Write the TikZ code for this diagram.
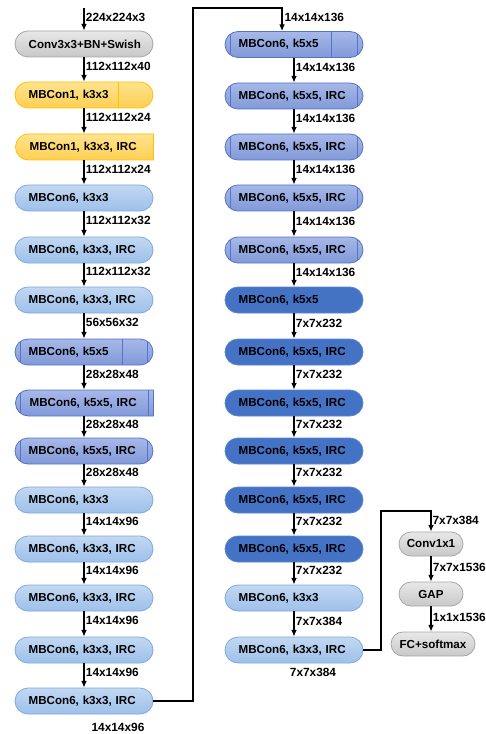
\documentclass[tikz,border=0pt]{standalone}
\usepackage{fontspec}
\setmainfont{Liberation Sans}
\usetikzlibrary{shapes.misc,arrows.meta}

\definecolor{graytop}{RGB}{232,232,232}
\definecolor{graybot}{RGB}{200,200,200}
\definecolor{grayline}{RGB}{166,166,166}
\definecolor{orangetop}{RGB}{255,227,143}
\definecolor{orangebot}{RGB}{255,207,82}
\definecolor{orangeline}{RGB}{255,192,0}
\definecolor{lighttop}{RGB}{194,216,242}
\definecolor{lightbot}{RGB}{157,192,234}
\definecolor{lightline}{RGB}{126,169,221}
\definecolor{midtop}{RGB}{167,184,232}
\definecolor{midbot}{RGB}{129,153,216}
\definecolor{midline}{RGB}{84,116,200}
\definecolor{darkfill}{RGB}{68,114,196}
\definecolor{darkline}{RGB}{91,132,207}

\tikzset{
  blk/.style={rounded rectangle, minimum width=103.5pt, minimum height=19.5pt,
    inner xsep=0pt, inner ysep=0pt, text width=83pt, align=left,
    font=\fontsize{8.7}{10}\selectfont\bfseries, line width=0.6pt},
  graybox/.style={blk, draw=grayline, top color=graytop, bottom color=graybot},
  orangebox/.style={blk, draw=orangeline, top color=orangetop, bottom color=orangebot},
  lightbox/.style={blk, draw=lightline, top color=lighttop, bottom color=lightbot},
  midbox/.style={blk, draw=midline, top color=midtop, bottom color=midbot,
    path picture={\draw[midline, line width=0.5pt]
      ([xshift=4pt]path picture bounding box.south west) -- ([xshift=4pt]path picture bounding box.north west)
      ([xshift=-4pt]path picture bounding box.south east) -- ([xshift=-4pt]path picture bounding box.north east);}},
  darkbox/.style={blk, draw=darkline, fill=darkfill},
  headbox/.style={rounded rectangle, minimum width=48pt, minimum height=18pt,
    inner xsep=0pt, inner ysep=0pt, align=center, draw=grayline, top color=graytop,
    bottom color=graybot, line width=0.6pt, font=\fontsize{8.7}{10}\selectfont\bfseries},
  divline/.style={line width=0.5pt},
  arr/.style={-{Latex[length=5pt,width=4.2pt]}, line width=0.9pt},
  dim/.style={anchor=west, inner sep=1pt, font=\fontsize{8.9}{10}\selectfont\bfseries},
  dimfree/.style={inner sep=1pt, font=\fontsize{8.9}{10}\selectfont\bfseries}
}

\begin{document}
\begin{tikzpicture}[x=0.75pt,y=0.75pt,yscale=-1,xscale=1]
\useasboundingbox (0,0) rectangle (485,734);

%Stem: left column
\node[graybox, align=center] (l0) at (84,44) {Conv3x3+BN+Swish};
\node[orangebox] (l1) at (84,95) {MBCon1, k3x3};
\node[orangebox, rounded rectangle right arc=none] (l2) at (85,147) {MBCon1, k3x3, IRC};
\node[lightbox] (l3) at (84,198) {MBCon6, k3x3};
\node[lightbox] (l4) at (84,250) {MBCon6, k3x3, IRC};
\node[lightbox] (l5) at (84,300) {MBCon6, k3x3, IRC};
\node[midbox] (l6) at (84,352) {MBCon6, k5x5};
\node[midbox, rounded rectangle right arc=none] (l7) at (85,403) {MBCon6, k5x5, IRC};
\node[midbox] (l8) at (84,451) {MBCon6, k5x5, IRC};
\node[lightbox] (l9) at (84,500) {MBCon6, k3x3};
\node[lightbox] (l10) at (84,549) {MBCon6, k3x3, IRC};
\node[lightbox] (l11) at (84,598) {MBCon6, k3x3, IRC};
\node[lightbox] (l12) at (84,650) {MBCon6, k3x3, IRC};
\node[lightbox] (l13) at (84,701) {MBCon6, k3x3, IRC};

%Dividers
\draw[orangeline, divline] ([xshift=25.5pt]l1.north) -- ([xshift=25.5pt]l1.south);
\draw[midline, divline] ([xshift=28.5pt]l6.north) -- ([xshift=28.5pt]l6.south);

%Straight Lines: left column
\coordinate (in) at (84,8);
\draw[arr] (in) -- (l0.north) node[dim, pos=.4] (d0) {224x224x3};
\draw[arr] (l0.south) -- (l1.north) node[dim, pos=.36] (d1) {112x112x40};
\draw[arr] (l1.south) -- (l1.south |- l2.north) node[dim, pos=.36] (d2) {112x112x24};
\draw[arr] (l1.south |- l2.south) -- (l3.north) node[dim, pos=.36] (d3) {112x112x24};
\draw[arr] (l3.south) -- (l4.north) node[dim, pos=.36] (d4) {112x112x32};
\draw[arr] (l4.south) -- (l5.north) node[dim, pos=.36] (d5) {112x112x32};
\draw[arr] (l5.south) -- (l6.north) node[dim, pos=.36] (d6) {56x56x32};
\draw[arr] (l6.south) -- (l6.south |- l7.north) node[dim, pos=.36] (d7) {28x28x48};
\draw[arr] (l6.south |- l7.south) -- (l8.north) node[dim, pos=.36] (d8) {28x28x48};
\draw[arr] (l8.south) -- (l9.north) node[dim, pos=.36] (d9) {28x28x48};
\draw[arr] (l9.south) -- (l10.north) node[dim, pos=.36] (d10) {14x14x96};
\draw[arr] (l10.south) -- (l11.north) node[dim, pos=.36] (d11) {14x14x96};
\draw[arr] (l11.south) -- (l12.north) node[dim, pos=.36] (d12) {14x14x96};
\draw[arr] (l12.south) -- (l13.north) node[dim, pos=.36] (d13) {14x14x96};
\node[dimfree] (d14) at (118,727) {14x14x96};

%Middle column
\node[midbox] (m1) at (294,44.5) {MBCon6, k5x5};
\node[midbox] (m2) at (294,96) {MBCon6, k5x5, IRC};
\node[midbox] (m3) at (294,147) {MBCon6, k5x5, IRC};
\node[midbox] (m4) at (294,198) {MBCon6, k5x5, IRC};
\node[midbox] (m5) at (294,250) {MBCon6, k5x5, IRC};
\node[darkbox] (m6) at (294,300) {MBCon6, k5x5};
\node[darkbox] (m7) at (294,352) {MBCon6, k5x5, IRC};
\node[darkbox] (m8) at (294,403) {MBCon6, k5x5, IRC};
\node[darkbox] (m9) at (294,451) {MBCon6, k5x5, IRC};
\node[darkbox] (m10) at (294,500) {MBCon6, k5x5, IRC};
\node[darkbox] (m11) at (294,549) {MBCon6, k5x5, IRC};
\node[lightbox] (m12) at (294,598) {MBCon6, k3x3};
\node[lightbox] (m13) at (294,650) {MBCon6, k3x3, IRC};

%Divider
\draw[midline, divline] ([xshift=27.75pt]m1.north) -- ([xshift=27.75pt]m1.south);

%Straight Lines: skip from left column
\coordinate (jl) at (193,8);
\draw[arr] (l13.east) -| (jl) -| ([xshift=-9pt]m1.north);
\node[dim] (e0) at (283,17) {14x14x136};

%Straight Lines: middle column
\draw[arr] (m1.south) -- (m2.north) node[dim, pos=.38] (e1) {14x14x136};
\draw[arr] (m2.south) -- (m3.north) node[dim, pos=.38] (e2) {14x14x136};
\draw[arr] (m3.south) -- (m4.north) node[dim, pos=.38] (e3) {14x14x136};
\draw[arr] (m4.south) -- (m5.north) node[dim, pos=.38] (e4) {14x14x136};
\draw[arr] (m5.south) -- (m6.north) node[dim, pos=.38] (e5) {14x14x136};
\draw[arr] (m6.south) -- (m7.north) node[dim, pos=.38] (e6) {7x7x232};
\draw[arr] (m7.south) -- (m8.north) node[dim, pos=.38] (e7) {7x7x232};
\draw[arr] (m8.south) -- (m9.north) node[dim, pos=.38] (e8) {7x7x232};
\draw[arr] (m9.south) -- (m10.north) node[dim, pos=.38] (e9) {7x7x232};
\draw[arr] (m10.south) -- (m11.north) node[dim, pos=.38] (e10) {7x7x232};
\draw[arr] (m11.south) -- (m12.north) node[dim, pos=.38] (e11) {7x7x232};
\draw[arr] (m12.south) -- (m13.north) node[dim, pos=.38] (e12) {7x7x384};
\node[dimfree] (e13) at (313,672) {7x7x384};

%Head: right column
\node[headbox] (r1) at (431,544) {Conv1x1};
\node[headbox] (r2) at (431,594) {GAP};
\node[headbox, minimum width=63pt] (r3) at (433,644) {FC+softmax};

%Straight Lines: right column
\coordinate (jr) at (381,511);
\draw[arr] (m13.east) -| (jr) -| (r1.north);
\node[dim] (f0) at (431,520) {7x7x384};
\draw[arr] (r1.south) -- (r2.north) node[dim, pos=.42] (f1) {7x7x1536};
\draw[arr] (r2.south) -- (r2.south |- r3.north) node[dim, pos=.42] (f2) {1x1x1536};

\end{tikzpicture}
\end{document}
